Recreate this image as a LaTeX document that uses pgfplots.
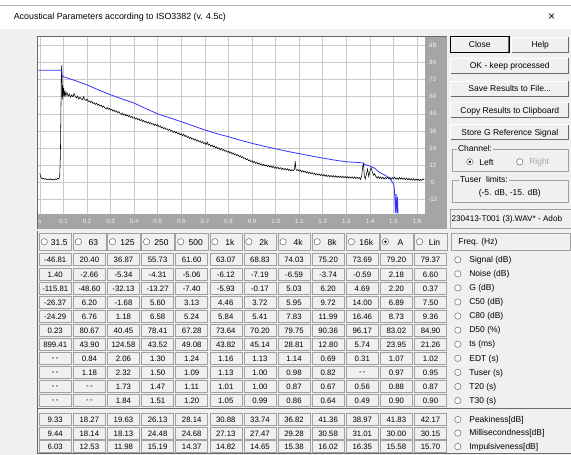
\documentclass[border=0pt]{standalone}
\usepackage{pgfplots}
\pgfplotsset{compat=1.18}
\usepackage{fontspec}
\setmainfont{Liberation Sans}
\definecolor{winbg}{HTML}{F0F0F0}
\definecolor{strip}{HTML}{A5A5A5}
\definecolor{gridc}{HTML}{CACACA}
\definecolor{cellb}{HTML}{A0A0A0}
\definecolor{darkc}{HTML}{696969}
\definecolor{curveblue}{RGB}{51,51,255}
\definecolor{ticktext}{HTML}{F2F2F2}
\newcommand{\valfont}{\fontsize{7.8}{8}\selectfont}
\newcommand{\labfont}{\fontsize{8.5}{9}\selectfont}
\newcommand{\btnfont}{\fontsize{8.5}{9}\selectfont}
\newcommand{\tickfont}{\fontsize{6.2}{6.2}\selectfont}
\newcommand{\radio}[1]{\draw[fill=white,draw=darkc,line width=0.5pt] #1 circle (3.2pt);}
\newcommand{\radiosel}[1]{\draw[fill=white,draw=darkc,line width=0.5pt] #1 circle (3.2pt); \fill[black] #1 circle (1.4pt);}
\newcommand{\btn}[5]{%
  \fill[winbg] (#1,#2) rectangle (#3,#4);
  \draw[white,line width=0.8pt] (#1,#4) -- (#1,#2) -- (#3,#2);
  \draw[darkc,line width=0.8pt] (#1,#4) -- (#3,#4) -- (#3,#2);
  \node[font=\btnfont] at ({(#1+#3)/2},{(#2+#4)/2+0.5}) {#5};}
\newcommand{\vrow}[2]{%
  \foreach \v [count=\i from 0] in {#2} {
    \draw[cellb,line width=0.5pt] ({39+34.15*\i},{#1-6}) rectangle ({71+34.15*\i},{#1+6});
    \node[font=\valfont] at ({55+34.15*\i},{#1+0.5}) {\v};
  }}
\newcommand{\rlabel}[3]{\radio{(#1,#2)} \node[anchor=west,font=\labfont] at ({#1+8},{#2+0.5}) {#3};}
\begin{document}
\begin{tikzpicture}
\begin{scope}[x=1pt,y=-1pt]
\fill[white] (0,0) rectangle (571,455);
\draw[gray!60,line width=0.6pt] (0,5.5) -- (571,5.5);
\fill[winbg] (0,29) rectangle (571,455);
\fill[strip] (37,36) rectangle (447,229);
\end{scope}
\begin{axis}[at={(38pt,-37pt)}, anchor=north west, scale only axis,
  width=387pt, height=177pt,
  xmin=-0.007, xmax=1.633, ymin=-21.8, ymax=101.7,
  axis background/.style={fill=white},
  axis line style={draw=none},
  xtick={0,0.1,0.2,0.3,0.4,0.5,0.6,0.7,0.8,0.9,1.0,1.1,1.2,1.3,1.4,1.5,1.6},
  xticklabels={s,0.1,0.2,0.3,0.4,0.5,0.6,0.7,0.8,0.9,1.0,1.1,1.2,1.3,1.4,1.5,1.6},
  ytick={-12,0,12,24,36,48,60,72,84,96},
  yticklabels={-12,0,12,24,36,48,60,72,84,dB},
  yticklabel pos=right,
  major tick length=0pt,
  grid=major, grid style={gridc,line width=0.6pt},
  xticklabel style={font=\tickfont,text=ticktext,anchor=center,yshift=-8pt},
  yticklabel style={font=\tickfont,text=ticktext,anchor=center,xshift=8pt},
  clip=true]
\addplot[black,line width=0.55pt] coordinates {
(0.000,6.4) (0.003,4.0) (0.006,3.2) (0.010,2.6) (0.015,3.0) (0.020,2.2) (0.025,2.8) (0.030,1.9) (0.035,2.5) (0.040,2.0) (0.045,2.7) (0.050,1.8) (0.055,2.4) (0.060,1.7) (0.065,2.6) (0.070,2.1) (0.075,3.0) (0.080,2.4) (0.084,4.5) (0.087,20) (0.089,48) (0.091,78) (0.093,82) (0.095,58) (0.097,68) (0.099,60) (0.101,66) (0.104,61) (0.107,63.5) (0.11,60.5) (0.115,62.8) (0.12,60.3) (0.125,61.8) (0.13,59.6) (0.135,61.2) (0.14,59.8) (0.145,62.3) (0.15,60.2) (0.155,59.1) (0.16,60.4) (0.165,58.3) (0.17,59.6) (0.175,58.6) (0.18,57.8) (0.185,59.9) (0.19,58.1) (0.195,57.2) (0.2,58.3) (0.205,56.6) (0.21,57.1) (0.215,55.9) (0.22,56.8) (0.225,55.2) (0.23,55.8) (0.235,54.6) (0.24,55.5) (0.245,53.9) (0.25,54.7) (0.255,53.4) (0.26,54.1) (0.265,52.6) (0.27,53.5) (0.275,52.2) (0.28,51.4) (0.285,52.5) (0.29,51.1) (0.295,51.8) (0.3,50.6) (0.305,51.3) (0.31,49.9) (0.315,50.7) (0.32,49.3) (0.325,50.1) (0.33,48.8) (0.335,49.6) (0.34,48.2) (0.345,47.6) (0.35,48.6) (0.355,47.1) (0.36,47.9) (0.365,46.5) (0.37,47.4) (0.375,46.1) (0.38,46.8) (0.385,45.4) (0.39,46.2) (0.395,44.9) (0.4,45.6) (0.405,44.4) (0.41,45.2) (0.415,43.8) (0.42,44.6) (0.425,43.3) (0.43,44.1) (0.435,42.6) (0.44,43.4) (0.445,42.1) (0.45,42.8) (0.455,41.6) (0.46,42.4) (0.465,41.1) (0.47,41.9) (0.475,40.6) (0.48,41.3) (0.485,39.9) (0.49,40.8) (0.495,39.6) (0.5,40.5) (0.505,38.9) (0.51,39.6) (0.515,38.2) (0.52,38.9) (0.525,37.6) (0.53,38.4) (0.535,37.1) (0.54,37.6) (0.545,36.4) (0.55,37.2) (0.555,35.8) (0.56,36.5) (0.565,35.1) (0.57,35.9) (0.575,34.6) (0.58,35.3) (0.585,33.9) (0.59,34.8) (0.595,33.4) (0.6,34.1) (0.605,32.6) (0.61,33.8) (0.615,32.1) (0.62,32.9) (0.625,31.5) (0.63,32.2) (0.635,30.7) (0.64,31.6) (0.645,30.2) (0.65,30.9) (0.655,29.6) (0.66,30.4) (0.665,28.9) (0.67,29.8) (0.675,28.3) (0.68,29.1) (0.685,27.8) (0.69,28.6) (0.695,27.1) (0.7,27.9) (0.705,26.4) (0.71,28.3) (0.715,26.1) (0.72,26.8) (0.725,25.3) (0.73,26.2) (0.735,24.8) (0.74,25.6) (0.745,24.1) (0.75,24.9) (0.755,23.6) (0.76,24.3) (0.765,22.9) (0.77,23.8) (0.775,22.4) (0.78,23.1) (0.785,21.8) (0.79,22.5) (0.795,21.2) (0.8,21.9) (0.805,20.6) (0.81,21.4) (0.815,19.9) (0.82,20.8) (0.825,19.4) (0.83,20.1) (0.835,18.8) (0.84,19.5) (0.845,18.1) (0.85,18.9) (0.855,17.4) (0.86,18.2) (0.865,16.8) (0.87,17.3) (0.875,15.9) (0.88,16.7) (0.885,15.2) (0.89,15.9) (0.895,14.6) (0.9,15.3) (0.905,13.9) (0.91,14.8) (0.915,13.4) (0.92,14.1) (0.925,12.8) (0.93,13.7) (0.935,12.4) (0.94,13.2) (0.945,11.9) (0.95,12.8) (0.955,11.6) (0.96,12.4) (0.965,11.1) (0.97,12.1) (0.975,10.8) (0.98,11.7) (0.985,10.4) (0.99,11.4) (0.995,10.1) (1.0,11.0) (1.005,9.8) (1.01,10.7) (1.015,9.5) (1.02,10.4) (1.025,9.2) (1.03,10.1) (1.035,9.0) (1.04,9.9) (1.045,8.7) (1.05,9.7) (1.055,8.4) (1.06,9.3) (1.065,8.1) (1.07,9.0) (1.075,8.3) (1.08,9.4) (1.083,15.0) (1.086,9.2) (1.09,8.4) (1.095,9.1) (1.1,7.9) (1.105,8.8) (1.11,7.5) (1.115,8.4) (1.12,7.1) (1.125,8.0) (1.13,6.8) (1.135,7.6) (1.14,6.4) (1.145,7.3) (1.15,6.1) (1.155,7.0) (1.16,5.8) (1.165,6.6) (1.17,5.4) (1.175,6.3) (1.18,5.1) (1.185,6.0) (1.19,4.9) (1.195,5.8) (1.2,4.6) (1.205,5.6) (1.21,4.4) (1.215,5.3) (1.22,4.2) (1.225,5.1) (1.23,4.0) (1.235,5.0) (1.24,3.9) (1.245,4.8) (1.25,3.7) (1.255,4.7) (1.26,3.6) (1.265,4.6) (1.27,3.5) (1.275,4.5) (1.28,3.4) (1.285,4.4) (1.29,3.3) (1.295,4.3) (1.3,3.2) (1.305,4.2) (1.31,3.1) (1.315,4.1) (1.32,3.0) (1.325,4.0) (1.33,2.9) (1.335,3.9) (1.34,2.8) (1.345,3.8) (1.35,2.7) (1.355,3.6) (1.36,2.2) (1.365,4.5) (1.37,12.0) (1.373,13.2) (1.376,5.0) (1.38,2.4) (1.385,6.0) (1.39,9.5) (1.395,4.2) (1.4,8.0) (1.405,10.5) (1.41,7.6) (1.415,5.1) (1.42,6.3) (1.425,4.2) (1.43,3.1) (1.435,4.4) (1.44,2.8) (1.445,3.9) (1.45,2.6) (1.455,3.8) (1.46,2.4) (1.465,3.6) (1.47,2.7) (1.475,3.9) (1.48,2.5) (1.485,3.7) (1.49,2.3) (1.495,3.5) (1.5,2.6) (1.505,3.8) (1.51,2.4) (1.515,3.3) (1.52,2.1) (1.525,3.6) (1.53,2.4) (1.535,3.4) (1.54,2.2) (1.545,3.2) (1.55,2.0) (1.555,3.1) (1.56,1.9) (1.565,2.9) (1.57,1.7) (1.575,2.8) (1.58,1.6) (1.585,2.7) (1.59,1.5) (1.595,2.5) (1.6,1.6) (1.605,2.4) (1.61,1.3) (1.615,2.3) (1.62,1.5) (1.625,2.6) (1.63,1.8)
};
\addplot[curveblue,line width=0.8pt] coordinates {
(-0.01,78.4) (0.092,78.4) (0.094,75) (0.1,73.9) (0.15,71.2) (0.2,68.2) (0.25,64.6) (0.3,61.3) (0.35,58.3) (0.4,55.5) (0.45,51.6) (0.5,48) (0.55,45.2) (0.6,42.5) (0.65,39.6) (0.7,36.7) (0.75,34.2) (0.8,32) (0.85,29.6) (0.9,27.4) (0.95,25.4) (1.0,23.6) (1.05,21.8) (1.1,20.2) (1.15,18.6) (1.2,17.1) (1.25,15.7) (1.3,14.5) (1.37,13.8) (1.38,12.5) (1.4,11.6) (1.42,10) (1.44,7.2) (1.46,5.5) (1.48,3.5) (1.49,1.5) (1.50,-1) (1.503,-3) (1.506,-12) (1.508,-21) (1.511,-8) (1.514,-21.5) (1.517,-10) (1.519,-21.5)
};
\end{axis}
\begin{scope}[x=1pt,y=-1pt]
\node[anchor=west,font=\fontsize{8.9}{10}\selectfont] at (10,17.5) {Acoustical Parameters according to ISO3382 (v. 4.5c)};
\node[font=\fontsize{12}{12}\selectfont] at (552,17) {×};
\draw[darkc,line width=0.8pt] (37,229) -- (37,36) -- (447,36);
% buttons
\btn{451}{37}{509}{52}{Close}
\draw[black,line width=0.6pt] (450.5,36.5) rectangle (509.5,52.5);
\btn{512}{37}{569}{52}{Help}
\btn{451}{58}{569}{73}{OK - keep processed}
\btn{451}{81}{569}{96}{Save Results to File...}
\btn{451}{103}{569}{118}{Copy Results to Clipboard}
\btn{451}{125}{569}{140}{Store G Reference Signal}
% channel group
\draw[cellb,line width=0.6pt] (452,149) rectangle (569,171);
\node[anchor=west,font=\btnfont,fill=winbg,inner sep=1pt] at (457,148.5) {Channel:};
\radiosel{(470,162)}
\node[anchor=west,font=\btnfont] at (476,162.5) {Left};
\radio{(520,162)}
\node[anchor=west,font=\btnfont,text=gray!70] at (526,162.5) {Right};
% tuser group
\draw[cellb,line width=0.6pt] (452,180) rectangle (569,203);
\node[anchor=west,font=\btnfont,fill=winbg,inner sep=1pt] at (459,179.5) {Tuser\ \ limits:};
\node[font=\btnfont] at (510,194) {(-5. dB, -15. dB)};
% file box
\draw[cellb,line width=0.6pt] (571,210) -- (450,210) -- (450,229) -- (571,229);
\node[anchor=west,font=\fontsize{8.2}{9}\selectfont,inner sep=0pt] at (451.5,220) {230413-T001 (3).WAV* - Adob};
% header row
\foreach \lab [count=\i from 0] in {31.5,63,125,250,500,1k,2k,4k,8k,16k,A,Lin} {
  \draw[cellb,line width=0.5pt] ({39+34.15*\i},233) rectangle ({71.5+34.15*\i},251);
  \node[font=\labfont] at ({59+34.15*\i},242.5) {\lab};
}
\foreach \i in {0,1,2,3,4,5,6,7,8,9,11} {\radio{({44+34.15*\i},242)}}
\radiosel{({44+34.15*10},242)}
\draw[cellb,line width=0.5pt] (451,233) rectangle (571,251);
\node[anchor=west,font=\labfont] at (455,242.5) {Freq. (Hz)};
\draw[darkc,line width=0.6pt] (37,231) -- (37,454) -- (571,454);
% values
\vrow{260}{-46.81,20.40,36.87,55.73,61.60,63.07,68.83,74.03,75.20,73.69,79.20,79.37}
\vrow{274.1}{1.40,-2.66,-5.34,-4.31,-5.06,-6.12,-7.19,-6.59,-3.74,-0.59,2.18,6.60}
\vrow{288.2}{-115.81,-48.60,-32.13,-13.27,-7.40,-5.93,-0.17,5.03,6.20,4.69,2.20,0.37}
\vrow{302.3}{-26.37,6.20,-1.68,5.60,3.13,4.46,3.72,5.95,9.72,14.00,6.89,7.50}
\vrow{316.4}{-24.29,6.76,1.18,6.58,5.24,5.84,5.41,7.83,11.99,16.46,8.73,9.36}
\vrow{330.5}{0.23,80.67,40.45,78.41,67.28,73.64,70.20,79.75,90.36,96.17,83.02,84.90}
\vrow{344.6}{899.41,43.90,124.58,43.52,49.08,43.82,45.14,28.81,12.80,5.74,23.95,21.26}
\vrow{358.7}{-\,-,0.84,2.06,1.30,1.24,1.16,1.13,1.14,0.69,0.31,1.07,1.02}
\vrow{372.8}{-\,-,1.18,2.32,1.50,1.09,1.13,1.00,0.98,0.82,-\,-,0.97,0.95}
\vrow{386.9}{-\,-,-\,-,1.73,1.47,1.11,1.01,1.00,0.87,0.67,0.56,0.88,0.87}
\vrow{401}{-\,-,-\,-,1.84,1.51,1.20,1.05,0.99,0.86,0.64,0.49,0.90,0.90}
\draw[darkc,line width=0.6pt] (37,409) -- (571,409);
\vrow{420}{9.33,18.27,19.63,26.13,28.14,30.88,33.74,36.82,41.36,38.97,41.83,42.17}
\vrow{433.5}{9.44,18.14,18.13,24.48,24.68,27.13,27.47,29.28,30.58,31.01,30.00,30.15}
\vrow{447}{6.03,12.53,11.98,15.19,14.37,14.82,14.65,15.38,16.02,16.35,15.58,15.70}
\rlabel{458}{260}{Signal (dB)}
\rlabel{458}{274.1}{Noise (dB)}
\rlabel{458}{288.2}{G (dB)}
\rlabel{458}{302.3}{C50 (dB)}
\rlabel{458}{316.4}{C80 (dB)}
\rlabel{458}{330.5}{D50 (\%)}
\rlabel{458}{344.6}{ts (ms)}
\rlabel{458}{358.7}{EDT (s)}
\rlabel{458}{372.8}{Tuser (s)}
\rlabel{458}{386.9}{T20 (s)}
\rlabel{458}{401}{T30 (s)}
\rlabel{458}{420}{Peakiness[dB]}
\rlabel{458}{433.5}{Millisecondness[dB]}
\rlabel{458}{447}{Impulsiveness[dB]}
\end{scope}
\end{tikzpicture}
\end{document}
